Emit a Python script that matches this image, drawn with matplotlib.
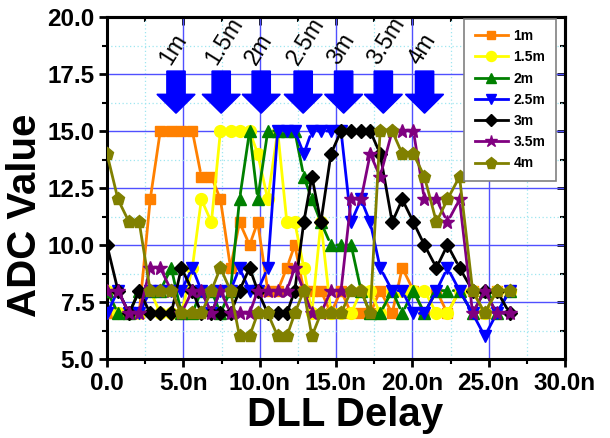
import matplotlib
matplotlib.use("Agg")
import matplotlib.pyplot as plt
from matplotlib.lines import Line2D
from matplotlib.patches import FancyArrow
from matplotlib.ticker import MultipleLocator, FuncFormatter

# ---------------- data ----------------
delay_ns = [0.0, 0.72, 1.45, 2.11, 2.83, 3.49, 4.21, 4.87, 5.59, 6.18,
            6.84, 7.43, 8.09, 8.68, 9.34, 9.87, 10.53, 11.18, 11.78, 12.30,
            12.89, 13.42, 14.01, 14.67, 15.33, 15.99, 16.64, 17.24, 17.89, 18.68,
            19.34, 20.07, 20.79, 21.58, 22.30, 23.09, 23.95, 24.74, 25.53, 26.38]

adc_1m = [7, 7, 7, 7, 12, 15, 15, 15, 15, 13, 13, 12, 9, 11, 10, 11, 8, 8, 9, 10,
          8, 8, 8, 7, 8, 7, 7, 7, 8, 7, 9, 8, 7, 8, 7, 8, 8, 7, 8, 8]
adc_1_5m = [8, 7, 7, 7, 8, 7, 7, 7, 9, 12, 11, 15, 15, 15, 15, 14, 12, 15, 11, 11,
            9, 7, 11, 7, 7, 7, 8, 8, 7, 8, 8, 8, 8, 7, 7, 8, 8, 7, 8, 8]
adc_2m = [8, 7, 7, 8, 8, 8, 9, 7, 7, 8, 8, 7, 8, 12, 15, 12, 15, 15, 15, 15,
          13, 12, 11, 10, 10, 10, 8, 7, 7, 8, 7, 8, 7, 8, 8, 8, 7, 8, 7, 8]
adc_2_5m = [7, 8, 7, 7, 8, 8, 8, 8, 9, 8, 7, 8, 8, 9, 8, 8, 9, 15, 15, 15,
            14, 15, 15, 15, 15, 11, 12, 11, 9, 8, 8, 7, 7, 8, 9, 8, 7, 6, 7, 8]
adc_3m = [10, 8, 7, 8, 7, 7, 7, 9, 8, 7, 7, 7, 7, 8, 9, 8, 7, 7, 7, 8,
          11, 13, 11, 14, 15, 15, 15, 15, 14, 11, 12, 11, 10, 9, 10, 9, 8, 8, 8, 7]
adc_3_5m = [8, 8, 7, 7, 9, 9, 8, 7, 8, 8, 7, 8, 7, 7, 7, 8, 8, 8, 8, 9,
            8, 7, 7, 8, 8, 12, 12, 14, 13, 15, 15, 15, 12, 12, 11, 12, 7, 8, 7, 7]
adc_4m = [14, 12, 11, 11, 8, 8, 8, 7, 7, 7, 8, 9, 8, 6, 6, 7, 7, 6, 6, 7,
          8, 6, 7, 7, 7, 8, 8, 7, 15, 15, 14, 14, 13, 11, 12, 13, 8, 7, 8, 8]

series_labels = ["1m", "1.5m", "2m", "2.5m", "3m", "3.5m", "4m"]
arrow_x = [4.52, 7.48, 10.1, 12.85, 15.5, 18.1, 20.8]

series_values = [adc_1m, adc_1_5m, adc_2m, adc_2_5m, adc_3m, adc_3_5m, adc_4m]
colors = ["#FF8000", "#FFFF00", "#008000", "#0000FF", "#000000", "#800080", "#808000"]
markers = ["s", "o", "^", "v", "D", "*", "p"]
msizes = [7.5, 8.5, 8.5, 8.5, 7.5, 10.5, 9.5]

plt.rcParams['font.family'] = ['Liberation Sans', 'DejaVu Sans']

fig = plt.figure(figsize=(6.10, 4.38), dpi=100)
ax = fig.add_axes([107/610, 1-359/438, 458/610, 342/438])

ax.set_xlim(0, 30)
ax.set_ylim(5, 20)

# grid
ax.xaxis.set_major_locator(MultipleLocator(5))
ax.xaxis.set_minor_locator(MultipleLocator(2.5))
ax.yaxis.set_major_locator(MultipleLocator(2.5))
ax.yaxis.set_minor_locator(MultipleLocator(1.25))
ax.grid(True, which='major', color='#5050ff', lw=1.0, zorder=0)
ax.grid(True, which='minor', color='#9fe6f0', lw=0.9, ls=(0, (1, 2)), zorder=0)
ax.set_axisbelow(True)

# series with gap-to-symbol line segments
for k, (vals, c, m, ms) in enumerate(zip(series_values, colors, markers, msizes)):
    zl = 2 + 2 * k
    for i in range(len(delay_ns) - 1):
        ax.annotate('', xy=(delay_ns[i + 1], vals[i + 1]), xytext=(delay_ns[i], vals[i]),
                    arrowprops=dict(arrowstyle='-', color=c, lw=2.0,
                                    shrinkA=4.2, shrinkB=4.2),
                    zorder=zl, annotation_clip=False)
    ax.plot(delay_ns, vals, ls='none', marker=m, ms=ms, color=c, mec=c, zorder=zl + 1)

# arrows and labels
for xa, lab in zip(arrow_x, series_labels):
    ax.add_patch(FancyArrow(xa, 17.63, 0, -1.85, width=1.2, head_width=2.5,
                            head_length=0.83, length_includes_head=True,
                            color='#0000FF', ec='#0000FF', zorder=20))
    ax.text(xa - 0.35, 17.85, lab, rotation=58, rotation_mode='anchor',
            ha='left', va='baseline', fontsize=16.5, zorder=21)

# ticks
fmt_x = FuncFormatter(lambda v, p: "0.0" if abs(v) < 1e-9 else f"{v:.1f}n")
fmt_y = FuncFormatter(lambda v, p: f"{v:.1f}")
ax.xaxis.set_major_formatter(fmt_x)
ax.yaxis.set_major_formatter(fmt_y)
ax.tick_params(which='major', direction='out', length=6, width=2, labelsize=17.5, pad=3)
ax.tick_params(which='minor', direction='out', length=3.5, width=1.5)
for lab in ax.get_xticklabels() + ax.get_yticklabels():
    lab.set_fontweight('bold')

secx = ax.secondary_xaxis('top')
secx.xaxis.set_major_locator(MultipleLocator(5))
secx.xaxis.set_minor_locator(MultipleLocator(2.5))
secx.tick_params(which='major', direction='in', length=6, width=2, labeltop=False)
secx.tick_params(which='minor', direction='in', length=3.5, width=1.5)
secy = ax.secondary_yaxis('right')
secy.yaxis.set_major_locator(MultipleLocator(2.5))
secy.yaxis.set_minor_locator(MultipleLocator(1.25))
secy.tick_params(which='major', direction='in', length=6, width=2, labelright=False)
secy.tick_params(which='minor', direction='in', length=3.5, width=1.5)
for s in list(ax.spines.values()) + list(secx.spines.values()) + list(secy.spines.values()):
    s.set_linewidth(2.2)

ax.set_xlabel("DLL Delay", fontsize=29, fontweight='bold')
ax.xaxis.set_label_coords(0.52, -0.108)
ax.set_ylabel("ADC Value", fontsize=29, fontweight='bold')
ax.yaxis.set_label_coords(-0.137, 0.42)

# legend
handles = [Line2D([0], [0], color=c, lw=2, marker=m, ms=ms * 0.85, mec=c)
           for c, m, ms in zip(colors, markers, msizes)]
leg = ax.legend(handles, series_labels, loc='upper right', bbox_to_anchor=(0.98, 0.995),
                borderaxespad=0, fancybox=False, framealpha=1, edgecolor='#808080',
                prop={'weight': 'bold', 'size': 10}, handlelength=2.4,
                labelspacing=0.52, borderpad=0.75, handletextpad=0.4)
leg.get_frame().set_linewidth(1.2)
leg.set_zorder(30)

fig.savefig("out.png", dpi=100)
